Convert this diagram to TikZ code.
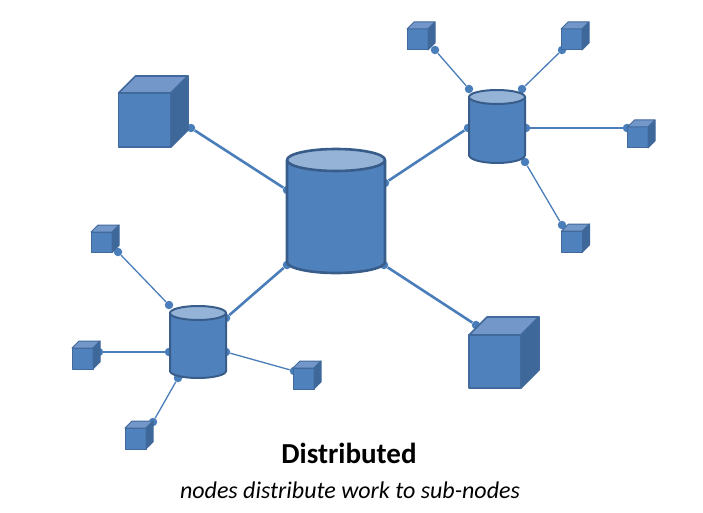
\documentclass[tikz,border=0pt]{standalone}
\usepackage{fontspec}
\setmainfont{Carlito}
\definecolor{mainblue}{HTML}{4F81BD}
\definecolor{edgeblue}{HTML}{385D8A}
\definecolor{cubeedge}{HTML}{41699C}
\definecolor{cyltop}{HTML}{95B3D7}
\definecolor{cubetop}{HTML}{7297C8}
\definecolor{cubeside}{HTML}{3F689A}
\definecolor{linkblue}{HTML}{4A7EBB}
\tikzset{
  dotnode/.style={circle,fill=linkblue,inner sep=0pt,minimum size=8.5pt},
  biglink/.style={draw=linkblue,line width=2.6pt},
  thinlink/.style={draw=linkblue,line width=1.3pt},
  shapeedge/.style={draw=edgeblue,line join=round},
  cubeline/.style={draw=cubeedge,line join=round},
}
% left, front top, width, height, depth, line width
\newcommand{\mycube}[6]{%
  \path[cubeline,fill=mainblue,line width=#6pt] (#1,#2) rectangle ++(#3,#4);
  \path[cubeline,fill=cubetop,line width=#6pt] (#1,#2) -- ++(#5,-#5) -- ++(#3,0) -- ++(-#5,#5) -- cycle;
  \path[cubeline,fill=cubeside,line width=#6pt] (#1+#3,#2) -- ++(#5,-#5) -- ++(0,#4) -- ++(-#5,#5) -- cycle;
}
% left, right, top of ellipse, y of rim centre, y where the sides end, lowest y, line width
\newcommand{\mycyl}[7]{%
  \pgfmathsetmacro{\rx}{(#2-#1)/2}
  \pgfmathsetmacro{\ry}{#4-#3}
  \pgfmathsetmacro{\rb}{#6-#5}
  \path[shapeedge,fill=mainblue,line width=#7pt] (#1,#4) -- (#1,#5)
     arc[start angle=180,end angle=360,x radius=\rx pt,y radius=\rb pt] -- (#2,#4) -- cycle;
  \path[shapeedge,fill=cyltop,line width=#7pt] (#1,#4)
     arc[start angle=180,end angle=540,x radius=\rx pt,y radius=\ry pt];
}
\begin{document}
\begin{tikzpicture}[x=1pt,y=-1pt]
\useasboundingbox (0,0) rectangle (703,513);

% connection points
\node[dotnode] (bigW) at (287,190) {};
\node[dotnode] (bigE) at (385,183) {};
\node[dotnode] (bigSW) at (287,265) {};
\node[dotnode] (bigSE) at (384,265) {};
\node[dotnode] (cubeA) at (191,128) {};
\node[dotnode] (cubeB) at (476,325) {};
\node[dotnode] (hubAW) at (468,128) {};
\node[dotnode] (hubBE) at (226,318) {};
\node[dotnode] (hubANW) at (469,89) {};
\node[dotnode] (hubANE) at (522,89) {};
\node[dotnode] (hubAE) at (526,128) {};
\node[dotnode] (hubASE) at (525,162) {};
\node[dotnode] (smallA) at (435,50) {};
\node[dotnode] (smallB) at (562,50) {};
\node[dotnode] (smallC) at (627,128) {};
\node[dotnode] (smallD) at (562,225) {};
\node[dotnode] (hubBNW) at (169,305) {};
\node[dotnode] (hubBW) at (169,352) {};
\node[dotnode] (hubBEE) at (226,352) {};
\node[dotnode] (hubBS) at (178,378) {};
\node[dotnode] (smallE) at (118,252) {};
\node[dotnode] (smallF) at (99,352) {};
\node[dotnode] (smallG) at (294,371) {};
\node[dotnode] (smallH) at (153,422) {};

% connectors
\draw[biglink] (bigW) -- (cubeA);
\draw[biglink] (bigE) -- (hubAW);
\draw[biglink] (bigSW) -- (hubBE);
\draw[biglink] (bigSE) -- (cubeB);
\draw[thinlink] (hubANW) -- (smallA);
\draw[thinlink] (hubANE) -- (smallB);
\draw[thinlink] (hubAE) -- (smallC);
\draw[thinlink] (hubASE) -- (smallD);
\draw[thinlink] (hubBNW) -- (smallE);
\draw[thinlink] (hubBW) -- (smallF);
\draw[thinlink] (hubBEE) -- (smallG);
\draw[thinlink] (hubBS) -- (smallH);

% cylinders
\mycyl{287}{385}{149}{160}{262}{273}{2.6}
\mycyl{469}{525}{90}{97}{155}{163}{2}
\mycyl{170}{226}{306}{313}{371}{378}{2}

% large cubes
\mycube{118.5}{93}{52.5}{54}{17}{1.6}
\mycube{469}{335}{52}{53}{18}{1.6}

% small cubes
\mycube{407}{29}{21}{21}{7}{1}
\mycube{561}{29}{21}{21}{7}{1}
\mycube{627.5}{127}{20.5}{21}{7}{1}
\mycube{561.5}{231}{21}{21}{7}{1}
\mycube{91}{232}{21}{20.5}{7}{1}
\mycube{72}{348}{21}{21}{7}{1}
\mycube{125}{428}{21}{21}{7}{1}
\mycube{293}{368}{21}{21}{7}{1}

% captions
\node[font=\fontsize{29}{34}\selectfont\bfseries,anchor=base] (title) at (349,463) {Distributed};
\node[font=\fontsize{24}{28}\selectfont\itshape,anchor=base] (subtitle) at (350,498) {nodes distribute work to sub-nodes};
\end{tikzpicture}
\end{document}
